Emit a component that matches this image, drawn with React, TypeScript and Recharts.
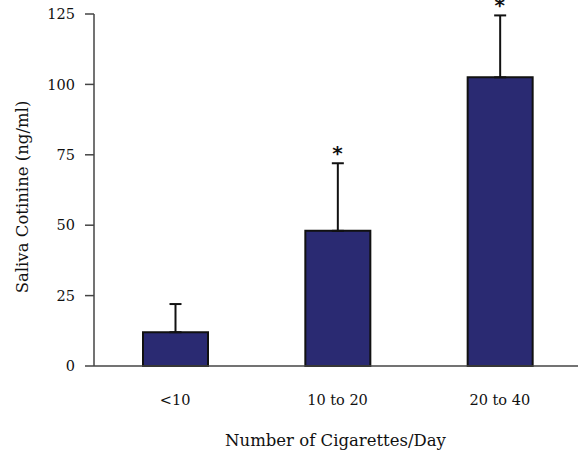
import React from 'react';
import {
  ComposedChart,
  Bar,
  Line,
  ErrorBar,
  XAxis,
  YAxis,
} from 'recharts';

const categories = ['<10', '10 to 20', '20 to 40'];
const cotinine = [12, 48, 102.5];
const errorUp = [10, 24, 22];
const significant = [false, true, true];
const yTicks = [0, 25, 50, 75, 100, 125];

const data = categories.map((name, i) => ({
  name,
  value: cotinine[i],
  err: [0, errorUp[i]],
  star: significant[i] ? cotinine[i] + errorUp[i] : null,
}));

const FONT = '"DejaVu Serif", serif';
const AXIS = '#444';

function YTitle(props: any) {
  const vb = props.viewBox || { x: 0, y: 0, width: 0, height: 0 };
  const cy = vb.y + vb.height / 2 + 7;
  return (
    <text
      x={22}
      y={cy}
      transform={`rotate(-90, 22, ${cy})`}
      textAnchor="middle"
      dominantBaseline="central"
      fontFamily={FONT}
      fontSize={16.5}
      fill="#111"
    >
      Saliva Cotinine (ng/ml)
    </text>
  );
}

function XTitle(props: any) {
  const vb = props.viewBox || { x: 0, y: 0, width: 0, height: 0 };
  return (
    <text
      x={vb.x + vb.width / 2 - 2}
      y={440}
      textAnchor="middle"
      dominantBaseline="central"
      fontFamily={FONT}
      fontSize={16.5}
      fill="#111"
    >
      Number of Cigarettes/Day
    </text>
  );
}

function Star(props: any) {
  const { cx, cy, value } = props;
  if (value == null || cy == null) return <g key={props.index} />;
  return (
    <text
      key={props.index}
      x={cx}
      y={cy - 3}
      textAnchor="middle"
      fontFamily='"DejaVu Sans", sans-serif'
      fontWeight="bold"
      fontSize={20}
      fill="#111"
    >
      *
    </text>
  );
}

export default function App() {
  return (
    <div style={{ width: 578, height: 454 }}>
      <style>{'body{margin:0}'}</style>
      <ComposedChart
        width={578}
        height={454}
        data={data}
        margin={{ top: 14, right: -3, bottom: 0, left: 0 }}
      >
        <XAxis
          dataKey="name"
          height={88}
          tickLine={false}
          tickMargin={23}
          axisLine={{ stroke: AXIS, strokeWidth: 1.5 }}
          tick={{ fontFamily: FONT, fontSize: 14.5, fill: '#111' }}
          label={<XTitle />}
        />
        <YAxis
          width={94}
          domain={[0, 125]}
          ticks={yTicks}
          interval={0}
          tickSize={9}
          tickMargin={10}
          axisLine={{ stroke: AXIS, strokeWidth: 1.5 }}
          tickLine={{ stroke: AXIS, strokeWidth: 1.5 }}
          tick={{ fontFamily: FONT, fontSize: 14.5, fill: '#111' }}
          label={<YTitle />}
        />
        <Bar
          dataKey="value"
          barSize={65}
          fill="#2a2a72"
          stroke="#111"
          strokeWidth={2}
          isAnimationActive={false}
        >
          <ErrorBar dataKey="err" width={6} stroke="#111" strokeWidth={2} direction="y" />
        </Bar>
        <Line
          dataKey="star"
          stroke="none"
          dot={<Star />}
          activeDot={false}
          connectNulls={false}
          isAnimationActive={false}
        />
      </ComposedChart>
    </div>
  );
}
